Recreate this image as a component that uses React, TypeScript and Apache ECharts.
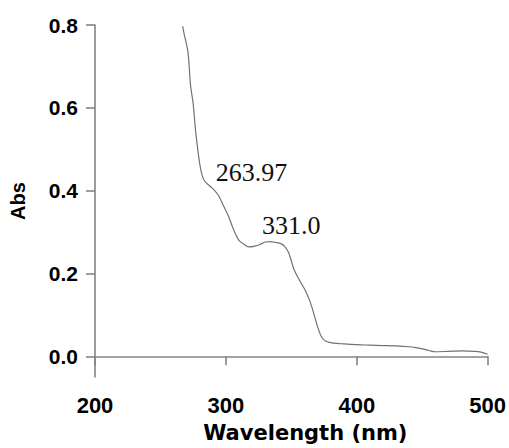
import React, { useEffect, useRef } from "react";
import * as echarts from "echarts";

const wavelength = [267, 268, 271, 273, 275, 277, 280, 282, 284, 286, 290, 294, 298, 302, 306, 310, 314, 318, 322, 326, 330, 334, 338, 342, 345, 348, 352, 356, 360, 364, 367, 370, 373, 376, 380, 385, 390, 400, 410, 420, 430, 440, 445, 450, 455, 460, 470, 480, 490, 495, 500];
const absorbance = [0.797, 0.78, 0.735, 0.655, 0.61, 0.54, 0.465, 0.435, 0.422, 0.416, 0.405, 0.39, 0.365, 0.338, 0.305, 0.28, 0.27, 0.264, 0.266, 0.27, 0.276, 0.277, 0.275, 0.272, 0.265, 0.25, 0.21, 0.185, 0.163, 0.135, 0.105, 0.072, 0.047, 0.037, 0.033, 0.031, 0.03, 0.028, 0.027, 0.026, 0.025, 0.023, 0.021, 0.018, 0.014, 0.011, 0.012, 0.013, 0.012, 0.01, 0.005];
const yTicks = [0, 0.2, 0.4, 0.6, 0.8];
const peakLabels = ["263.97", "331.0"];
const peakLabelAnchors: [number, number][] = [[319.6, 0.444], [350, 0.317]];

export default function App() {
  const ref = useRef<HTMLDivElement>(null);
  useEffect(() => {
    if (!ref.current) return;
    document.body.style.margin = "0";
    const chart = echarts.init(ref.current, null, { renderer: "svg" });
    const axisColor = "#858585";
    chart.setOption({
      animation: false,
      backgroundColor: "#ffffff",
      grid: { left: 95, right: 19, top: 25, bottom: 66 },
      xAxis: {
        type: "value",
        min: 200,
        max: 500,
        interval: 100,
        name: "Wavelength (nm)",
        nameLocation: "middle",
        nameGap: 45,
        nameTextStyle: {
          fontFamily: "DejaVu Sans",
          fontWeight: "bold",
          fontSize: 21,
          color: "#000",
          padding: [0, 0, 0, 28],
        },
        axisLine: { show: true, lineStyle: { color: axisColor, width: 1.6 } },
        axisTick: { show: true, length: 9, lineStyle: { color: axisColor, width: 1.6 } },
        axisLabel: {
          fontFamily: "Liberation Sans",
          fontWeight: "bold",
          fontSize: 22,
          color: "#000",
          margin: 17,
        },
        splitLine: { show: false },
      },
      yAxis: {
        type: "value",
        min: -0.05,
        max: 0.8,
        name: "Abs",
        nameLocation: "middle",
        nameGap: 67,
        nameTextStyle: {
          fontFamily: "Liberation Sans",
          fontWeight: "bold",
          fontSize: 20,
          color: "#000",
        },
        axisLine: { show: true, lineStyle: { color: axisColor, width: 1.6 } },
        axisTick: {
          show: true,
          length: 9,
          customValues: yTicks,
          lineStyle: { color: axisColor, width: 1.6 },
        },
        axisLabel: {
          customValues: yTicks,
          formatter: (v: number) => v.toFixed(1),
          fontFamily: "Liberation Sans",
          fontWeight: "bold",
          fontSize: 21,
          color: "#000",
          margin: 17,
        },
        splitLine: { show: false },
      },
      series: [
        {
          type: "line",
          data: wavelength.map((w, i) => [w, absorbance[i]]),
          showSymbol: false,
          symbol: "none",
          smooth: 0.3,
          lineStyle: { color: "#727272", width: 1.2 },
          markPoint: {
            symbol: "circle",
            symbolSize: 1,
            itemStyle: { color: "rgba(0,0,0,0)" },
            label: {
              show: true,
              position: "inside",
              fontFamily: "Liberation Serif",
              fontSize: 26,
              color: "#111",
              formatter: (p: any) => p.name,
            },
            data: peakLabels.map((t, i) => ({ name: t, coord: peakLabelAnchors[i] })),
          },
        },
      ],
    });
    return () => chart.dispose();
  }, []);
  return (
    <div
      ref={ref}
      style={{ position: "fixed", left: 0, top: 0, width: 509, height: 448 }}
    />
  );
}
